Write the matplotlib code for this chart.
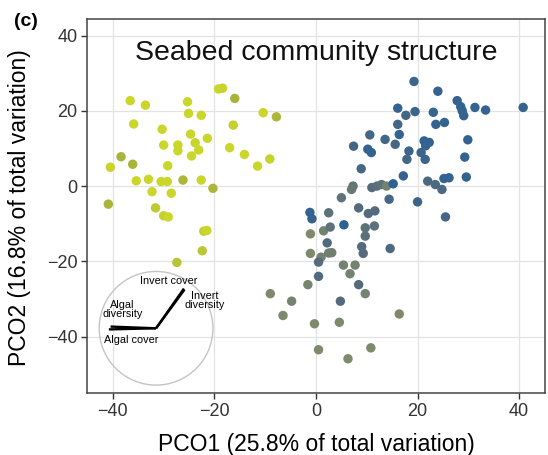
import matplotlib
matplotlib.use("Agg")
import matplotlib.pyplot as plt
from matplotlib.colors import LinearSegmentedColormap
from matplotlib.patches import Ellipse
import numpy as np

plt.rcParams["font.family"] = ["Liberation Sans", "DejaVu Sans"]

# PCO site scores: (PCO1, PCO2, colour value)
pco1 = [
    -19.2, -18.4, -16.0, -36.6, -33.6, -25.3, -25.1, -22.6, -35.9, -30.3,
    -24.7, -23.8, -21.4, -16.3, -30.0, -27.2, -27.2, -24.5, -23.1, -17.0,
    -38.4, -40.5, -36.1, -29.2, -35.4, -33.0, -30.5, -29.3, -26.2, -22.6,
    -20.3, -32.3, -28.5, -40.9, -31.6, -30.0, -29.1, -22.1, -21.5, -22.4,
    -27.4, -10.4, -7.8, -14.1, -11.5, -9.1,
    # right-hand group
    19.3, 24.0, 27.8, 28.5, 28.8, 29.1, 31.3, 33.4, 40.8, 16.1,
    17.7, 19.5, 23.1, 16.1, 23.6, 25.3, 10.6, 16.4, 13.6, 15.6,
    21.3, 22.3, 21.6, 29.9, 7.4, 10.2, 10.9, 18.3, 20.7, 17.9,
    21.5, 29.3, 8.9, 17.2, 29.6, 25.2, 26.2, 22.0, 23.5, 24.8,
    7.3, 7.0, 11.0, 12.0, 12.9, 13.9, 15.2, 5.0, 14.4, 20.0,
    25.5, -1.2, -0.8, 2.5, 8.4, 10.3, 11.6, 5.5, -1.1, 1.5,
    2.8, 9.7, 11.5, 9.7, 2.2, 9.0, 9.3, 14.6, -1.1, 1.0,
    2.5, 3.1, 0.5, 5.4, 7.7, 6.7, 0.5, -1.6, 8.4, 9.7,
    -9.0, -4.8, 4.8, -6.5, -0.3, 4.6, 16.4, 0.5, 10.8, 6.3,
]
pco2 = [
    25.8, 26.0, 23.3, 22.7, 21.5, 22.4, 19.3, 18.8, 16.5, 15.1,
    13.8, 11.5, 12.7, 16.2, 10.9, 10.9, 9.4, 8.0, 9.6, 10.2,
    7.8, 5.0, 5.8, 5.4, 1.4, 1.8, 1.2, 1.2, 1.6, 1.6,
    -0.6, -1.5, -1.9, -4.8, -5.8, -7.9, -8.2, -12.0, -11.8, -17.2,
    -20.3, 19.5, 18.4, 8.4, 5.3, 7.2,
    # right-hand group
    27.8, 25.2, 22.7, 21.1, 20.0, 18.7, 20.9, 20.2, 20.9, 20.7,
    18.8, 19.8, 19.6, 16.4, 16.4, 16.9, 13.6, 13.7, 12.4, 11.1,
    12.0, 11.6, 10.7, 12.3, 10.6, 9.8, 8.9, 9.3, 8.9, 7.1,
    7.1, 7.7, 4.6, 2.7, 2.4, 2.0, 2.2, 1.3, 0.4, -0.9,
    0.0, -0.9, -0.4, 0.0, 0.4, 0.0, 0.6, -3.1, -3.5, -4.2,
    -8.2, -7.0, -8.7, -7.1, -5.8, -7.3, -6.6, -10.3, -12.7, -11.9,
    -10.9, -11.1, -10.6, -13.3, -15.1, -16.1, -17.9, -16.6, -17.9, -18.9,
    -17.8, -17.7, -20.2, -21.0, -21.0, -23.3, -24.0, -26.2, -26.2, -28.6,
    -28.6, -30.6, -30.6, -34.4, -36.6, -36.2, -34.0, -43.5, -43.0, -45.9,
]
site_value = [
    0.0, 0.02, 0.22, 0.0, 0.0, 0.0, 0.0, 0.0, 0.0, 0.0,
    0.0, 0.02, 0.0, 0.05, 0.0, 0.0, 0.0, 0.0, 0.0, 0.0,
    0.22, 0.02, 0.22, 0.0, 0.0, 0.0, 0.0, 0.0, 0.2, 0.0,
    0.2, 0.0, 0.0, 0.22, 0.08, 0.05, 0.0, 0.05, 0.0, 0.1,
    0.12, 0.0, 0.2, 0.0, 0.0, 0.02,
    # right-hand group
    0.9, 0.95, 0.95, 0.95, 0.95, 0.95, 0.95, 0.95, 0.95, 0.95,
    0.85, 0.9, 0.95, 0.85, 0.95, 0.95, 0.85, 0.95, 0.85, 0.85,
    0.95, 0.95, 0.95, 0.95, 0.85, 0.95, 0.95, 0.9, 0.9, 0.85,
    0.9, 0.95, 0.85, 0.95, 0.95, 0.95, 0.95, 0.8, 0.8, 0.8,
    0.68, 0.66, 0.75, 0.72, 0.7, 0.6, 1.0, 0.7, 0.85, 0.9,
    0.85, 0.95, 0.95, 0.7, 0.75, 0.75, 0.75, 1.0, 0.55, 0.6,
    0.7, 0.7, 0.7, 0.72, 0.78, 0.75, 0.75, 0.8, 0.55, 0.6,
    0.62, 0.62, 0.75, 0.6, 0.6, 0.6, 0.78, 0.58, 0.75, 0.6,
    0.55, 0.6, 0.75, 0.55, 0.55, 0.55, 0.55, 0.55, 0.55, 0.55,
]

# correlation vectors (unit-circle coordinates)
vector_names = ["Algal cover", "Algal diversity", "Invert cover", "Invert diversity"]
vector_x = [-0.83, -0.80, 0.49, 0.50]
vector_y = [-0.02, 0.03, 0.70, 0.68]

site_cmap = LinearSegmentedColormap.from_list(
    "site", [(0.0, "#cad72a"), (0.22, "#a9b43a"), (0.55, "#7e8a6b"),
             (0.75, "#556b7d"), (1.0, "#2c6194")])

fig = plt.figure(figsize=(5.48, 4.55), dpi=100)
ax = fig.add_axes([87 / 548, 1 - 393 / 455, (545 - 87) / 548, (393 - 19) / 455])

ax.set_xlim(-45.1, 45.1)
ax.set_ylim(-55.0, 44.4)
ax.set_xticks([-40, -20, 0, 20, 40])
ax.set_yticks([-40, -20, 0, 20, 40])
ax.grid(True, color="#e3e3e3", linewidth=0.9, zorder=0)
ax.set_axisbelow(True)
for sp in ax.spines.values():
    sp.set_color("#444444")
    sp.set_linewidth(1.1)
ax.tick_params(axis="both", length=4, width=1.0, color="#333333",
               labelsize=13, labelcolor="#333333", pad=3)

ax.scatter(pco1, pco2, c=site_value, cmap=site_cmap, vmin=0, vmax=1,
           s=46, linewidths=0, zorder=3)

# correlation circle with vectors
cx, cy = -31.5, -37.8
rx, ry = 11.2, 15.1
ax.add_patch(Ellipse((cx, cy), 2 * rx, 2 * ry, fill=False,
                     edgecolor="#c4c4c4", linewidth=1.0, zorder=2))
for vx, vy in zip(vector_x, vector_y):
    ax.plot([cx, cx + vx * rx], [cy, cy + vy * ry], color="black",
            linewidth=1.7, solid_capstyle="butt", zorder=4)

lab_kw = dict(fontsize=7.8, ha="center", va="center", linespacing=0.9, zorder=5)
ax.text(-29.1, -25.2, "Invert cover", **lab_kw)
ax.text(-21.9, -30.4, "Invert\ndiversity", **lab_kw)
ax.text(-38.1, -32.9, "Algal\ndiversity", **lab_kw)
ax.text(-36.4, -40.8, "Algal cover", **lab_kw)

ax.text(0, 33.4, "Seabed community structure", fontsize=20.5,
        ha="center", va="baseline", color="#111111", zorder=5)

fig.text(316.5 / 548, 1 - 444.6 / 455, "PCO1 (25.8% of total variation)",
         fontsize=16.5, ha="center", va="center")
fig.text(20 / 548, 1 - 208 / 455, "PCO2 (16.8% of total variation)",
         fontsize=16.5, ha="center", va="center", rotation=90)
fig.text(26 / 548, 1 - 21 / 455, "(c)", fontsize=14, fontweight="bold",
         ha="center", va="center")

fig.savefig("out.png", dpi=100)
